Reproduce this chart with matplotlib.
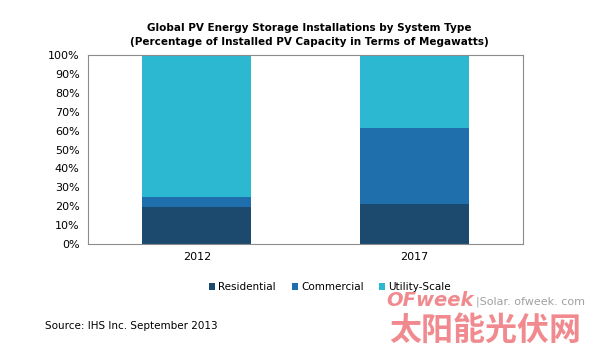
import matplotlib.pyplot as plt
import numpy as np

years = ['2012', '2017']
residential = [19.7, 21.2]
commercial = [5.3, 40.0]
utility = [75.0, 38.8]
series_names = ['Residential', 'Commercial', 'Utility-Scale']
colors = ['#1b4a6e', '#1f6fad', '#2db8d2']
yticks = np.arange(0, 101, 10)

fig = plt.figure(figsize=(6, 3.61), dpi=100)
ax = fig.add_axes([88/600, 1 - 244/361, 435/600, 189/361])

x = np.arange(len(years))
bottom = np.zeros(len(years))
handles = []
for vals, name, c in zip([residential, commercial, utility], series_names, colors):
    h = ax.bar(x, vals, width=0.5, bottom=bottom, color=c, label=name, linewidth=0)
    handles.append(h)
    bottom += np.array(vals)

ax.set_xlim(-0.5, 1.5)
ax.set_ylim(0, 100)
ax.set_xticks(x)
ax.set_xticklabels(years, fontsize=8)
ax.set_yticks(yticks)
ax.set_yticklabels(['%d%%' % t for t in yticks], fontsize=8)
ax.tick_params(length=0, pad=6)
for s in ax.spines.values():
    s.set_color('#8c8c8c')
    s.set_linewidth(0.8)

fig.text(0.515, 1 - 28/361, 'Global PV Energy Storage Installations by System Type',
         ha='center', va='center', fontsize=7.5, fontweight='bold')
fig.text(0.515, 1 - 42/361, '(Percentage of Installed PV Capacity in Terms of Megawatts)',
         ha='center', va='center', fontsize=7.5, fontweight='bold')

fig.legend(handles=handles, loc='center', bbox_to_anchor=(330/600, 1 - 287/361), ncol=3,
           frameon=False, fontsize=7.5, handlelength=0.6, handleheight=0.6,
           handletextpad=0.3, columnspacing=1.5)

fig.text(45/600, 1 - 326/361, 'Source: IHS Inc. September 2013', ha='left', va='center', fontsize=7.5)

# watermark
fig.text(386/600, 1 - 300/361, 'OFweek', ha='left', va='center', fontsize=14,
         fontweight='bold', fontstyle='italic', color='#f08a8f')
fig.text(476/600, 1 - 302/361, '|Solar. ofweek. com', ha='left', va='center',
         fontsize=8, color='#a0a0a0')
fig.text(485/600, 1 - 331/361, '太阳能光伏网', ha='center', va='center', fontsize=23,
         fontweight='bold', color='#f08a8f', family=['Noto Sans CJK SC', 'DejaVu Sans'])

fig.savefig('out.png', dpi=100)
